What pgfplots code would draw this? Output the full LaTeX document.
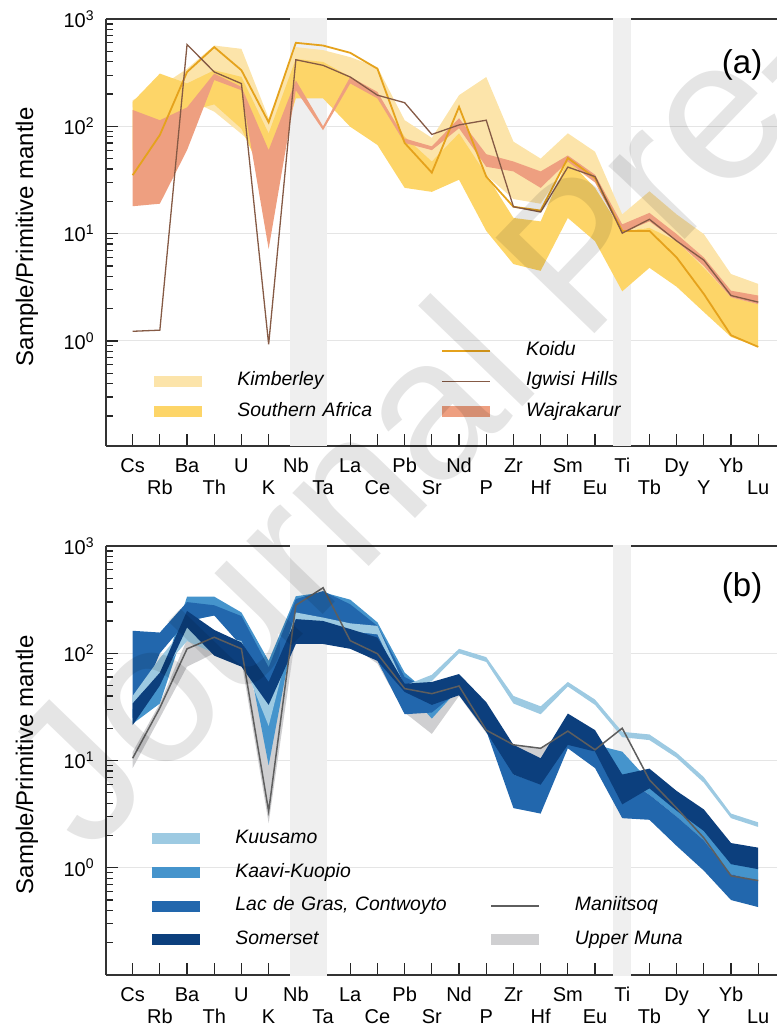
\documentclass[border=0pt]{standalone}
\usepackage{pgfplots}
\pgfplotsset{compat=1.18}
\usepackage{fontspec}
\setmainfont{Liberation Sans}

\definecolor{kimb}{HTML}{FCE4AA}
\definecolor{safr}{HTML}{FDD568}
\definecolor{waj}{HTML}{EE9F80}
\definecolor{koidu}{HTML}{E5A21C}
\definecolor{igw}{HTML}{855A45}
\definecolor{vband}{HTML}{EFEFEF}
\definecolor{kuus}{HTML}{9DCAE2}
\definecolor{kaavi}{HTML}{4594CC}
\definecolor{ldg}{HTML}{2267AD}
\definecolor{somer}{HTML}{0C3F7D}
\definecolor{mani}{HTML}{5E5E5E}
\definecolor{muna}{HTML}{CFCFD1}

\newcommand{\tkU}[1]{\strut #1}
\newcommand{\tkD}[1]{\strut\\\strut #1}
\newcommand{\tenp}[1]{10\textsuperscript{#1}}

\pgfplotsset{
  swatch/.style={legend image code/.code={\fill[##1, draw=none] (0pt,-2.75pt) rectangle (24pt,2.75pt);}},
  swline/.style={legend image code/.code={\draw[##1] (0pt,0pt) -- (24pt,0pt);}},
}

\begin{document}
\begin{tikzpicture}
\useasboundingbox (0,0) rectangle (388.5pt,512pt);

% ---------------- Panel (a)
\begin{axis}[
  at={(53pt,502.5pt)}, anchor=north west,
  width=335.5pt, height=213.5pt, scale only axis,
  xmin=-0.98, xmax=23.69,
  ymode=log, ymin=0.105, ymax=1000,
  axis x line*=box, axis y line*=left,
  tick align=inside,
  xtick pos=left, ytick pos=left,
  xtick={0,...,23},
  xticklabels={\tkU{Cs},\tkD{Rb},\tkU{Ba},\tkD{Th},\tkU{U},\tkD{K},\tkU{Nb},\tkD{Ta},\tkU{La},\tkD{Ce},\tkU{Pb},\tkD{Sr},\tkU{Nd},\tkD{P},\tkU{Zr},\tkD{Hf},\tkU{Sm},\tkD{Eu},\tkU{Ti},\tkD{Tb},\tkU{Dy},\tkD{Y},\tkU{Yb},\tkD{Lu}},
  ytick={1,10,100,1000},
  yticklabels={\tenp{0},\tenp{1},\tenp{2},\tenp{3}},
  minor ytick={0.2,0.3,0.4,0.5,0.6,0.7,0.8,0.9,2,3,4,5,6,7,8,9,20,30,40,50,60,70,80,90,200,300,400,500,600,700,800,900},
  ymajorgrids=true,
  major grid style={draw=black!10, line width=0.5pt},
  axis line style={draw=black!80, line width=0.65pt},
  tick style={draw=black!85, line width=0.6pt},
  major tick length=6pt, minor tick length=3.5pt,
  tick label style={font=\fontsize{10}{11}\selectfont},
  xticklabel style={align=center, inner sep=0pt, yshift=-5.3pt},
  yticklabel style={inner sep=0pt, xshift=-5.5pt},
  ylabel={Sample/Primitive mantle},
  ylabel style={font=\fontsize{12}{14}\selectfont, at={(axis description cs:-0.1177,0.49)}, anchor=center},
  legend columns=2,
  legend cell align=left,
  legend style={at={(axis description cs:0.0715,0.2459)}, anchor=north west,
    draw=none, fill=none, inner sep=0pt, row sep=5.75pt,
    nodes={inner sep=0pt, text width=102pt, align=left, text height=7pt, text depth=2.5pt, font=\fontsize{9.7}{11}\selectfont\itshape},
    /tikz/every odd column/.append style={column sep=17.5pt}},
]
\addplot[fill=vband, draw=none, forget plot] coordinates {(5.78,0.05) (7.15,0.05) (7.15,2000) (5.78,2000)};
\addplot[fill=vband, draw=none, forget plot] coordinates {(17.65,0.05) (18.32,0.05) (18.32,2000) (17.65,2000)};

% Kimberley band (upper, then lower reversed)
\addplot[fill=kimb, draw=none, forget plot] coordinates {(0,175) (1,233) (2,344) (3,566) (4,527) (5,119) (6,547) (7,513) (8,441) (9,355) (10,114) (11,78) (12,195) (13,288) (14,72) (15,50) (16,86) (17,58) (18,15.1) (19,24.8) (20,15.1) (21,9.9) (22,4.2) (23,3.4) (23,2.2) (22,2.55) (21,4.5) (20,7.4) (19,11.3) (18,10.6) (17,30) (16,45) (15,19) (14,21) (13,35) (12,60) (11,40) (10,47) (9,100) (8,140) (7,200) (6,200) (5,50) (4,85) (3,137) (2,180) (1,140) (0,150)};
% Southern Africa band
\addplot[fill=safr, draw=none, forget plot] coordinates {(0,169) (1,310) (2,251) (3,333) (4,289) (5,86) (6,425) (7,398) (8,289) (9,202) (10,80) (11,47) (12,86) (13,35.4) (14,14) (15,13) (16,48.7) (17,26.7) (18,10.6) (19,11.3) (20,8.5) (21,4.8) (22,2.55) (23,2.2) (23,0.88) (22,1.09) (21,1.86) (20,3.2) (19,4.8) (18,2.9) (17,8.5) (16,14) (15,4.5) (14,5.2) (13,10.6) (12,31.8) (11,24.5) (10,26.7) (9,67) (8,99) (7,182) (6,182) (5,26.7) (4,95) (3,160) (2,137) (1,107) (0,60)};
% Wajrakarur band
\addplot[fill=waj, draw=none, forget plot] coordinates {(0,142) (1,114) (2,150) (3,310) (4,233) (5,60) (6,268) (7,100) (8,289) (9,209) (10,77) (11,65) (12,119) (13,55) (14,47) (15,38) (16,53.5) (17,35.4) (18,12.2) (19,15.6) (20,9.9) (21,6.0) (22,2.94) (23,2.65) (23,2.2) (22,2.55) (21,5.0) (20,8.5) (19,13) (18,10.2) (17,30) (16,47) (15,26.7) (14,38) (13,42) (12,96) (11,60) (10,70) (9,182) (8,251) (7,92) (6,217) (5,7.2) (4,217) (3,270) (2,60) (1,19) (0,18)};
% Koidu
\addplot[koidu, line width=0.9pt, forget plot] coordinates {(0,35) (1,83) (2,321) (3,547) (4,333) (5,109) (6,600) (7,566) (8,484) (9,344) (10,70) (11,37) (12,152) (13,34) (14,17.8) (15,16.4) (16,50.6) (17,33) (18,10.6) (19,10.6) (20,6.0) (21,2.74) (22,1.13) (23,0.88)};
% Igwisi Hills
\addplot[igw, line width=0.65pt, forget plot] coordinates {(0,1.23) (1,1.26) (2,578) (3,321) (4,250) (5,0.93) (6,417) (7,370) (8,288) (9,195) (10,166) (11,84) (12,103) (13,114) (14,17.8) (15,15.9) (16,41.7) (17,34) (18,10.1) (19,13.6) (20,8.55) (21,5.66) (22,2.65) (23,2.3)};

\addlegendimage{empty legend}\addlegendentry{}
\addlegendimage{swline, draw=koidu, line width=0.9pt}\addlegendentry{Koidu}
\addlegendimage{swatch, fill=kimb}\addlegendentry{Kimberley}
\addlegendimage{swline, draw=igw, line width=0.65pt}\addlegendentry{Igwisi Hills}
\addlegendimage{swatch, fill=safr}\addlegendentry{Southern Africa}
\addlegendimage{swatch, fill=waj}\addlegendentry{Wajrakarur}

\node[font=\fontsize{16.5}{18}\selectfont, inner sep=0pt] at (axis description cs:0.948,0.892) {(a)};
\end{axis}

% ---------------- Panel (b)
\begin{axis}[
  at={(53pt,239pt)}, anchor=north west,
  width=335.5pt, height=214.5pt, scale only axis,
  xmin=-0.98, xmax=23.69,
  ymode=log, ymin=0.1, ymax=1000,
  axis x line*=box, axis y line*=left,
  tick align=inside,
  xtick pos=left, ytick pos=left,
  xtick={0,...,23},
  xticklabels={\tkU{Cs},\tkD{Rb},\tkU{Ba},\tkD{Th},\tkU{U},\tkD{K},\tkU{Nb},\tkD{Ta},\tkU{La},\tkD{Ce},\tkU{Pb},\tkD{Sr},\tkU{Nd},\tkD{P},\tkU{Zr},\tkD{Hf},\tkU{Sm},\tkD{Eu},\tkU{Ti},\tkD{Tb},\tkU{Dy},\tkD{Y},\tkU{Yb},\tkD{Lu}},
  ytick={1,10,100,1000},
  yticklabels={\tenp{0},\tenp{1},\tenp{2},\tenp{3}},
  minor ytick={0.2,0.3,0.4,0.5,0.6,0.7,0.8,0.9,2,3,4,5,6,7,8,9,20,30,40,50,60,70,80,90,200,300,400,500,600,700,800,900},
  ymajorgrids=true,
  major grid style={draw=black!10, line width=0.5pt},
  axis line style={draw=black!80, line width=0.65pt},
  tick style={draw=black!85, line width=0.6pt},
  major tick length=6pt, minor tick length=3.5pt,
  tick label style={font=\fontsize{10}{11}\selectfont},
  xticklabel style={align=center, inner sep=0pt, yshift=-5.3pt},
  yticklabel style={inner sep=0pt, xshift=-5.5pt},
  ylabel={Sample/Primitive mantle},
  ylabel style={font=\fontsize{12}{14}\selectfont, at={(axis description cs:-0.1177,0.49)}, anchor=center},
  legend columns=2,
  legend cell align=left,
  legend style={at={(axis description cs:0.0686,0.3403)}, anchor=north west,
    draw=none, fill=none, inner sep=0pt, row sep=7.3pt,
    nodes={inner sep=0pt, text width=127.5pt, align=left, text height=7pt, text depth=2.5pt, font=\fontsize{9.7}{11}\selectfont\itshape},
    /tikz/every odd column/.append style={column sep=17.5pt}},
]
\addplot[fill=vband, draw=none, forget plot] coordinates {(5.78,0.05) (7.15,0.05) (7.15,2000) (5.78,2000)};
\addplot[fill=vband, draw=none, forget plot] coordinates {(17.65,0.05) (18.32,0.05) (18.32,2000) (17.65,2000)};

% Upper Muna band
\addplot[fill=muna, draw=none, forget plot] coordinates {(0,12) (1,34) (2,135) (3,140) (4,120) (5,14) (6,250) (7,300) (8,200) (9,130) (10,50) (11,38) (12,50) (13,25) (14,14) (15,13) (16,18) (17,13) (18,10) (19,7) (20,4) (21,2.2) (22,1.1) (23,0.9) (23,0.7) (22,0.8) (21,1.7) (20,3) (19,5) (18,6) (17,10) (16,14) (15,10) (14,11) (13,18) (12,40) (11,17.7) (10,28) (9,80) (8,120) (7,150) (6,150) (5,2.6) (4,85) (3,100) (2,75) (1,25) (0,8.5)};
% Kaavi-Kuopio band
\addplot[fill=kaavi, draw=none, forget plot] coordinates {(0,30) (1,54) (2,337) (3,337) (4,240) (5,85) (6,340) (7,370) (8,316) (9,194) (10,66) (11,40) (12,58) (13,33) (14,13) (15,9.8) (16,17) (17,14) (18,12.1) (19,6.4) (20,4.2) (21,2.5) (22,1.16) (23,1.0) (23,0.76) (22,0.87) (21,1.8) (20,3.0) (19,4.8) (18,7.1) (17,9) (16,15) (15,5.5) (14,7.4) (13,18.5) (12,47) (11,24.6) (10,47) (9,89) (8,170) (7,200) (6,200) (5,9) (4,190) (3,225) (2,200) (1,34) (0,22)};
% Lac de Gras, Contwoyto band
\addplot[fill=ldg, draw=none, forget plot] coordinates {(0,162) (1,156) (2,300) (3,280) (4,222) (5,74) (6,320) (7,380) (8,286) (9,180) (10,60) (11,45) (12,58) (13,33) (14,7.4) (15,6) (16,16) (17,12) (18,7) (19,4.8) (20,3.0) (21,1.8) (22,0.87) (23,0.76) (23,0.43) (22,0.5) (21,0.94) (20,1.6) (19,2.8) (18,2.9) (17,8.5) (16,13) (15,3.2) (14,3.6) (13,19) (12,45) (11,28) (10,27) (9,85) (8,150) (7,200) (6,208) (5,35) (4,117) (3,225) (2,200) (1,100) (0,25)};
% Kuusamo band
\addplot[fill=kuus, draw=none, forget plot] coordinates {(0,40) (1,90) (2,185) (3,150) (4,130) (5,35) (6,240) (7,215) (8,190) (9,180) (10,50) (11,63) (12,110) (13,92) (14,40) (15,32) (16,54) (17,37) (18,18.5) (19,17.5) (20,11.8) (21,7.0) (22,3.2) (23,2.65) (23,2.4) (22,2.9) (21,6.2) (20,10.6) (19,15.5) (18,16.5) (17,33) (16,49) (15,27) (14,34) (13,83) (12,100) (11,55) (10,45) (9,150) (8,160) (7,195) (6,208) (5,21) (4,90) (3,100) (2,130) (1,66) (0,34)};
% Somerset band
\addplot[fill=somer, draw=none, forget plot] coordinates {(0,34) (1,66) (2,248) (3,165) (4,126) (5,54) (6,208) (7,200) (8,168) (9,140) (10,52) (11,54) (12,64) (13,35) (14,14) (15,10.5) (16,27.4) (17,19.2) (18,7.4) (19,8.4) (20,5.2) (21,3.5) (22,1.7) (23,1.54) (23,0.97) (22,1.08) (21,2.2) (20,3.4) (19,5.5) (18,3.9) (17,12.1) (16,14) (15,5.95) (14,7.4) (13,18.5) (12,40.6) (11,33) (10,43.6) (9,85) (8,110) (7,122) (6,122) (5,33) (4,75) (3,95) (2,174) (1,50) (0,21.4)};
% Maniitsoq
\addplot[mani, line width=0.75pt, forget plot] coordinates {(0,10.5) (1,31) (2,110) (3,141) (4,110) (5,3.37) (6,280) (7,408) (8,131) (9,99) (10,46.8) (11,42) (12,49.5) (13,19.2) (14,14) (15,13) (16,18.8) (17,12.6) (18,20) (19,6.6) (20,3.6) (21,1.9) (22,0.84) (23,0.76)};

\addlegendimage{swatch, fill=kuus}\addlegendentry{Kuusamo}
\addlegendimage{empty legend}\addlegendentry{}
\addlegendimage{swatch, fill=kaavi}\addlegendentry{Kaavi-Kuopio}
\addlegendimage{empty legend}\addlegendentry{}
\addlegendimage{swatch, fill=ldg}\addlegendentry{Lac de Gras, Contwoyto}
\addlegendimage{swline, draw=mani, line width=0.75pt}\addlegendentry{Maniitsoq}
\addlegendimage{swatch, fill=somer}\addlegendentry{Somerset}
\addlegendimage{swatch, fill=muna}\addlegendentry{Upper Muna}

\node[font=\fontsize{16.5}{18}\selectfont, inner sep=0pt] at (axis description cs:0.948,0.902) {(b)};
\end{axis}

% watermark
\node[rotate=46, anchor=base west, font=\fontsize{100}{100}\selectfont, text=black, opacity=0.1, inner sep=0pt] at (44.5pt,83.5pt) {Journal Pre-proof};
\end{tikzpicture}
\end{document}
